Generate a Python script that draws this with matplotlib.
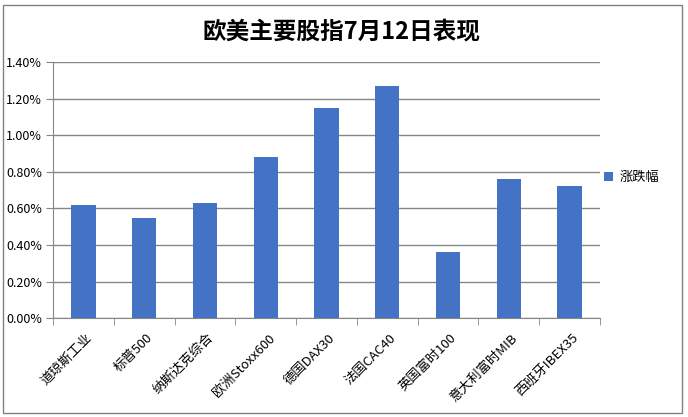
import matplotlib.pyplot as plt
from matplotlib.patches import Rectangle
from matplotlib.ticker import FuncFormatter, MultipleLocator
from matplotlib.transforms import ScaledTranslation

plt.rcParams['font.family'] = ['Noto Sans CJK SC', 'DejaVu Sans']

indices = ["道琼斯工业", "标普500", "纳斯达克综合", "欧洲Stoxx600", "德国DAX30",
           "法国CAC40", "英国富时100", "意大利富时MIB", "西班牙IBEX35"]
changes = [0.62, 0.55, 0.63, 0.88, 1.15, 1.27, 0.36, 0.76, 0.72]  # %

bar_color = "#4472C4"
grid_color = "#868686"

fig = plt.figure(figsize=(6.88, 4.17), dpi=100)
fig.patch.set_facecolor("white")

# khung chart
fig.add_artist(Rectangle((0.004, 0.01), 0.987, 0.979, transform=fig.transFigure,
                         fill=False, edgecolor="#808080", linewidth=1.0))

ax = fig.add_axes([0.077, 0.237, 0.795, 0.614])
x = range(len(indices))
ax.bar(x, changes, width=0.4, color=bar_color, zorder=3, label="涨跌幅")

ax.set_xlim(-0.5, len(indices) - 0.5)
ax.set_ylim(0, 1.4)
ax.yaxis.set_major_locator(MultipleLocator(0.2))
ax.yaxis.set_major_formatter(FuncFormatter(lambda v, p: f"{v:.2f}%"))
ax.grid(axis="y", color=grid_color, linewidth=1.0, zorder=0)

ax.set_xticks([i + 0.5 for i in range(-1, len(indices))], minor=True)
ax.tick_params(axis="x", which="major", length=0, pad=0)
ax.tick_params(axis="x", which="minor", length=5, color=grid_color, direction="out")
ax.tick_params(axis="y", length=5, color=grid_color, labelsize=9, pad=3)

ax.set_xticks(x)
ax.set_xticklabels(indices, rotation=45, ha="right", va="top",
                   rotation_mode="anchor", fontsize=9.5)
# dịch label xuống giống Excel
shift = ScaledTranslation(2 / 100, -13 / 100, fig.dpi_scale_trans)
for lbl in ax.get_xticklabels():
    lbl.set_transform(lbl.get_transform() + shift)

for side in ["top", "right"]:
    ax.spines[side].set_visible(False)
for side in ["left", "bottom"]:
    ax.spines[side].set_color(grid_color)

fig.text(0.497, 0.925, "欧美主要股指7月12日表现", ha="center", va="center",
         fontsize=17, fontweight="bold")

ax.legend(loc="center left", bbox_to_anchor=(0.985, 0.55), frameon=False,
          fontsize=9.5, handlelength=0.7, handleheight=0.7, handletextpad=0.5)

fig.savefig("out.png", dpi=100)
